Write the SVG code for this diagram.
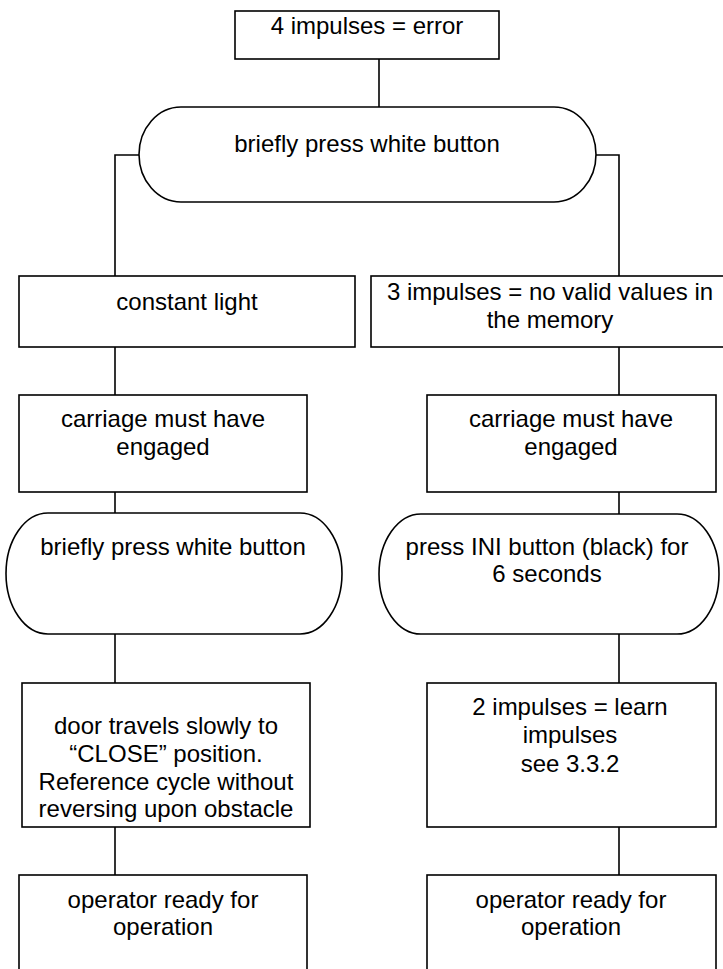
<svg xmlns="http://www.w3.org/2000/svg" width="723" height="969" viewBox="0 0 723 969">
<style>
.b{fill:#fff;stroke:#000;stroke-width:1.6}
.c{fill:none;stroke:#000;stroke-width:1.6}
text{font-family:"Liberation Sans",Arial,sans-serif;font-size:24px;fill:#000;text-anchor:middle}
</style>
<rect width="723" height="969" fill="#fff"/>
<g id="connectors">
<path class="c" d="M379,59V107"/>
<path class="c" d="M139,155H115V276"/>
<path class="c" d="M596,155H619V276"/>
<path class="c" d="M115,347V395"/>
<path class="c" d="M619,347V395"/>
<path class="c" d="M115,492V513"/>
<path class="c" d="M619,492V514"/>
<path class="c" d="M115,634V683"/>
<path class="c" d="M619,634V683"/>
<path class="c" d="M115,827V875"/>
<path class="c" d="M619,827V875"/>
</g>
<g id="n1"><rect class="b" x="235" y="11" width="264" height="48"/><text x="367" y="34">4 impulses = error</text></g>
<g id="n2"><rect class="b" x="139" y="107" width="457" height="95" rx="42" ry="47.5"/><text x="367" y="152">briefly press white button</text></g>
<g id="n3"><rect class="b" x="19" y="276" width="336" height="71"/><text x="187" y="310">constant light</text></g>
<g id="n4"><rect class="b" x="371" y="276" width="354" height="71"/><text x="550" y="300">3 impulses = no valid values in</text><text x="550" y="328">the memory</text></g>
<g id="n5"><rect class="b" x="19" y="395" width="288" height="97"/><text x="163" y="427">carriage must have</text><text x="163" y="455">engaged</text></g>
<g id="n6"><rect class="b" x="427" y="395" width="289" height="97"/><text x="571" y="427">carriage must have</text><text x="571" y="455">engaged</text></g>
<g id="n7"><rect class="b" x="6" y="513" width="336" height="121" rx="42" ry="60.5"/><text x="173" y="555">briefly press white button</text></g>
<g id="n8"><rect class="b" x="379" y="514" width="340" height="120" rx="42" ry="60"/><text x="547" y="555">press INI button (black) for</text><text x="547" y="582">6 seconds</text></g>
<g id="n9"><rect class="b" x="22" y="683" width="288" height="144"/><text x="166" y="734">door travels slowly to</text><text x="166" y="762">“CLOSE” position.</text><text x="166" y="790">Reference cycle without</text><text x="166" y="817">reversing upon obstacle</text></g>
<g id="n10"><rect class="b" x="427" y="683" width="289" height="144"/><text x="570" y="715">2 impulses = learn</text><text x="570" y="743">impulses</text><text x="570" y="772">see 3.3.2</text></g>
<g id="n11"><rect class="b" x="19" y="875" width="288" height="110"/><text x="163" y="908">operator ready for</text><text x="163" y="935">operation</text></g>
<g id="n12"><rect class="b" x="427" y="875" width="289" height="110"/><text x="571" y="908">operator ready for</text><text x="571" y="935">operation</text></g>
</svg>
